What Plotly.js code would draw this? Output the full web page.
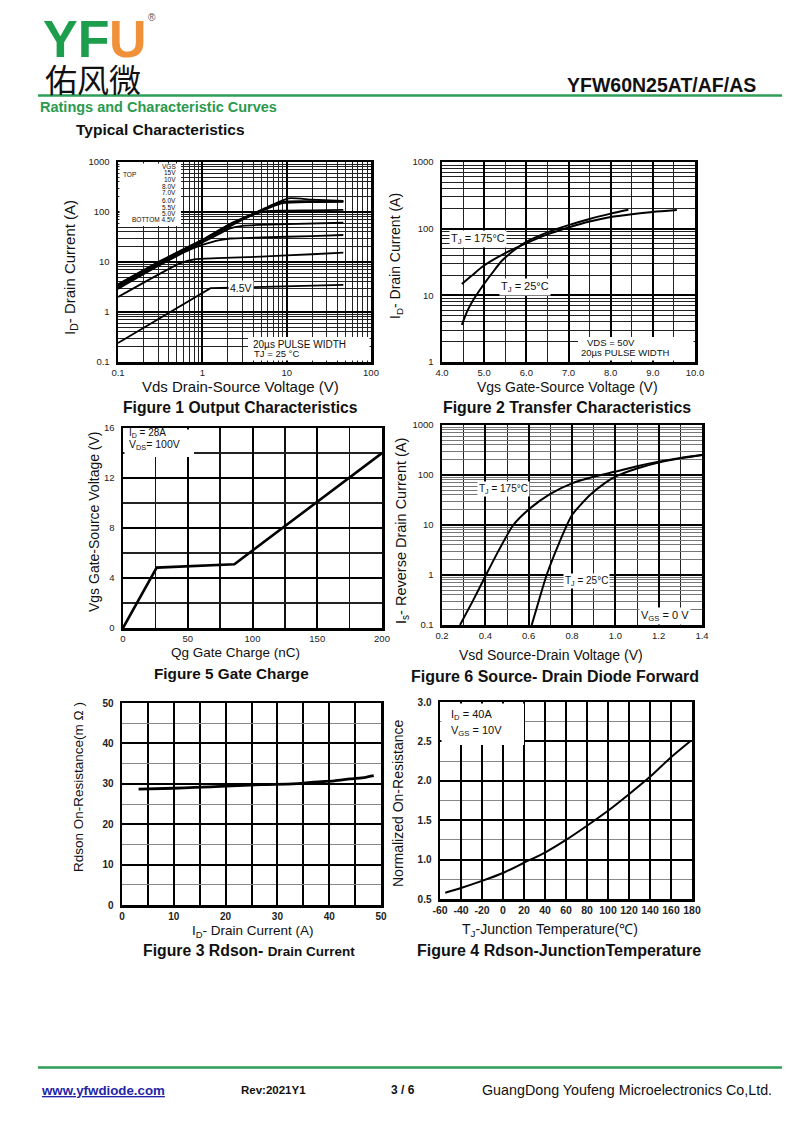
<!DOCTYPE html>
<html><head><meta charset="utf-8">
<script src="https://cdn.plot.ly/plotly-3.0.1.min.js"></script>
<style>html,body{margin:0;padding:0;background:#fff}#chart{width:800px;height:1130px}</style>
</head><body><div id="chart"></div>
<script>
// ---------- Figure 1: Output characteristics (log-log) ----------
const fig1_labels = ['15V','10V','8.0V','7.0V','6.0V','5.5V','5.0V','4.5V'];
const fig1_vds_15V = [0.1, 0.3, 1, 2.14, 4, 6, 10.5, 20, 47];
const fig1_id_15V  = [3.6, 10, 28, 58, 93, 127, 188, 176, 166];
const fig1_vds_10V = [0.1, 0.3, 1, 2.14, 4, 6, 9, 20, 47];
const fig1_id_10V  = [3.5, 9.7, 27.3, 56.5, 91, 123, 160, 164, 163];
const fig1_vds_8V  = [0.1, 0.3, 1, 2.14, 4, 6, 9, 20, 47];
const fig1_id_8V   = [3.4, 9.5, 26.5, 55, 88, 118, 150, 158, 160];
const fig1_vds_7V  = [0.1, 0.3, 1, 2.14, 3.5, 5, 8, 20, 47];
const fig1_id_7V   = [3.3, 9.2, 26, 52, 80, 100, 106, 108, 110];
const fig1_vds_6V  = [0.1, 0.3, 1, 1.6, 2.14, 3, 10, 47];
const fig1_id_6V   = [3.1, 8.8, 24.5, 37, 47, 53, 57, 61];
const fig1_vds_55V = [0.1, 0.3, 0.7, 1, 1.6, 2.14, 5, 20, 47];
const fig1_id_55V  = [2.9, 8.3, 17.5, 22, 27.5, 29.5, 31, 33, 34.7];
const fig1_vds_5V  = [0.1, 0.3, 0.55, 0.8, 1.5, 5, 20, 47];
const fig1_id_5V   = [2.0, 5.6, 9.5, 11.3, 11.9, 12.8, 14.3, 15.4];
const fig1_vds_45V = [0.1, 0.5, 1.25, 4, 15, 47];
const fig1_id_45V  = [0.24, 1.2, 3.0, 3.15, 3.3, 3.5];

// ---------- Figure 2: Transfer characteristics ----------
const fig2_vgs_25  = [4.47, 4.6, 4.74, 4.98, 5.2, 5.42, 5.7, 5.99, 6.5, 7.0, 7.5, 8.0, 8.42];
const fig2_id_25   = [3.6, 5.8, 8.5, 14.3, 22, 33, 47, 63, 88, 113, 140, 168, 192];
const fig2_vgs_175 = [4.47, 4.7, 4.98, 5.5, 5.99, 6.5, 7.0, 7.5, 8.0, 8.5, 9.0, 9.57];
const fig2_id_175  = [14.8, 19.6, 27.5, 43, 60, 82, 104, 128, 150, 165, 178, 190];

// ---------- Figure 5: Gate charge ----------
const fig5_qg  = [0, 26, 86, 200];
const fig5_vgs = [0, 4.83, 5.1, 14];

// ---------- Figure 6: Source-drain diode forward ----------
const fig6_vsd_175 = [0.283, 0.34, 0.403, 0.46, 0.529, 0.606, 0.7, 0.8, 0.9, 1.0, 1.1, 1.2, 1.3, 1.4];
const fig6_is_175  = [0.1, 0.29, 1.0, 3.0, 10, 21.5, 42, 68, 92, 117, 150, 185, 220, 251];
const fig6_vsd_25  = [0.614, 0.65, 0.683, 0.74, 0.8, 0.883, 0.95, 1.0, 1.1, 1.2, 1.3, 1.4];
const fig6_is_25   = [0.1, 0.34, 1.0, 4.3, 15.8, 39.8, 68, 92.6, 135, 177, 215, 251];

// ---------- Figure 3: Rdson vs drain current ----------
const fig3_id    = [3.2, 10, 14, 20, 27, 33, 37, 41, 44, 47, 48.6];
const fig3_rdson = [28.7, 28.9, 29.1, 29.4, 29.8, 30.0, 30.4, 30.7, 31.2, 31.6, 32.0];

// ---------- Figure 4: Normalized Rdson vs Tj ----------
const fig4_tj = [-55, -40, -20, 0, 20, 40, 60, 80, 100, 120, 140, 160, 178];
const fig4_r  = [0.58, 0.64, 0.73, 0.83, 0.96, 1.09, 1.25, 1.43, 1.62, 1.83, 2.05, 2.3, 2.5];
const fig4_tick_vals   = [-60, -40, -20, 0, 20, 40, 60, 80, 100, 120, 140, 160, 180];
const fig4_tick_labels = ['-60', '-40', '-20', '0', '20', '40', '60', '80', '100', '120', '140', '160', '180'];

// ---------- helpers ----------
const FONT = 'Liberation Sans, Arial, Helvetica, sans-serif';
const W = 800, H = 1130;
const px = v => v / W, py = v => 1 - v / H;

function line(x, y, xa, ya, w, shape) {
  return {x: x, y: y, xaxis: xa, yaxis: ya, mode: 'lines', hoverinfo: 'skip',
          line: {color: '#000', width: w || 1.8, shape: shape || 'spline', smoothing: 0.6}};
}
const traces = [
  line(fig1_vds_15V, fig1_id_15V, 'x', 'y'),
  line(fig1_vds_10V, fig1_id_10V, 'x', 'y'),
  line(fig1_vds_8V, fig1_id_8V, 'x', 'y'),
  line(fig1_vds_7V, fig1_id_7V, 'x', 'y'),
  line(fig1_vds_6V, fig1_id_6V, 'x', 'y'),
  line(fig1_vds_55V, fig1_id_55V, 'x', 'y'),
  line(fig1_vds_5V, fig1_id_5V, 'x', 'y'),
  line(fig1_vds_45V, fig1_id_45V, 'x', 'y', 1.8, 'linear'),
  line(fig2_vgs_25, fig2_id_25, 'x2', 'y2', 2),
  line(fig2_vgs_175, fig2_id_175, 'x2', 'y2', 2),
  line(fig5_qg, fig5_vgs, 'x3', 'y3', 2.6, 'linear'),
  line(fig6_vsd_175, fig6_is_175, 'x4', 'y4', 2),
  line(fig6_vsd_25, fig6_is_25, 'x4', 'y4', 2),
  line(fig3_id, fig3_rdson, 'x5', 'y5', 2.8),
  line(fig4_tj, fig4_r, 'x6', 'y6', 2)
];

function ax(extra) {
  return Object.assign({
    showline: true, mirror: true, linecolor: '#000', linewidth: 2.5,
    showgrid: true, gridcolor: '#000', gridwidth: 2, zeroline: false,
    ticks: 'outside', ticklen: 4, tickcolor: 'rgba(0,0,0,0)',
    tickfont: {family: FONT, size: 9.5, color: '#222'}, fixedrange: true
  }, extra);
}
function xax(extra) { return ax(Object.assign({ticks: '', ticklen: 0}, extra)); }
const boldTicks = {family: FONT, size: 10, color: '#222', weight: 'bold'};
const logMinor = (c, w) => ({dtick: 'D1', showgrid: true, gridcolor: c, gridwidth: w, ticks: ''});

const layout = {
  width: W, height: H, margin: {l: 0, r: 0, t: 0, b: 0},
  paper_bgcolor: '#fff', plot_bgcolor: '#fff', showlegend: false,
  font: {family: FONT, color: '#111'},
  // Fig 1
  xaxis: xax({type: 'log', range: [-1, 2], dtick: 1, exponentformat: 'none', domain: [px(118), px(371)], anchor: 'y',
    minor: logMinor('#222', 1)}),
  yaxis: ax({type: 'log', range: [-1, 3], dtick: 1, exponentformat: 'none', domain: [py(362), py(162)], anchor: 'x',
    minor: logMinor('#222', 1)}),
  // Fig 2
  xaxis2: xax({range: [4, 10], dtick: 1, tickformat: '.1f', domain: [px(442), px(695)], anchor: 'y2',
    minor: {dtick: 0.5, showgrid: true, gridcolor: '#222', gridwidth: 1, ticks: ''}}),
  yaxis2: ax({type: 'log', range: [0, 3], dtick: 1, exponentformat: 'none', domain: [py(362), py(162)], anchor: 'x2',
    minor: logMinor('#222', 1)}),
  // Fig 5
  xaxis3: xax({range: [0, 200], dtick: 50, domain: [px(123), px(382)], anchor: 'y3',
    minor: {dtick: 25, showgrid: true, gridcolor: '#111', gridwidth: 1.5, ticks: ''}}),
  yaxis3: ax({range: [0, 16], dtick: 4, domain: [py(628), py(428)], anchor: 'x3',
    minor: {dtick: 2, showgrid: true, gridcolor: '#222', gridwidth: 1.2, ticks: ''}}),
  // Fig 6
  xaxis4: xax({range: [0.19999, 1.40001], dtick: 0.2, tick0: 0.2, tickformat: '.1f', domain: [px(442), px(702)], anchor: 'y4',
    minor: {dtick: 0.1, showgrid: true, gridcolor: '#222', gridwidth: 1, ticks: ''}}),
  yaxis4: ax({type: 'log', range: [-1, 3], dtick: 1, exponentformat: 'none', domain: [py(625), py(425)], anchor: 'x4',
    minor: logMinor('#777', 1)}),
  // Fig 3
  xaxis5: xax({range: [0, 50], dtick: 10, domain: [px(122), px(381)], anchor: 'y5', tickfont: boldTicks,
    minor: {dtick: 5, showgrid: true, gridcolor: '#000', gridwidth: 2, ticks: ''}}),
  yaxis5: ax({range: [0, 50], dtick: 10, domain: [py(905), py(703)], anchor: 'x5', tickfont: boldTicks,
    minor: {dtick: 5, showgrid: true, gridcolor: '#888', gridwidth: 1, ticks: ''}}),
  // Fig 4
  xaxis6: xax({range: [-60, 180], tickmode: 'array', tickvals: fig4_tick_vals, ticktext: fig4_tick_labels,
    domain: [px(440), px(692)], anchor: 'y6',
    tickfont: {family: FONT, size: 10.5, color: '#222', weight: 'bold'}}),
  yaxis6: ax({range: [0.5, 3.0001], dtick: 0.5, tick0: 0.5, tickformat: '.1f', domain: [py(899), py(702)], anchor: 'x6',
    tickfont: boldTicks,
    minor: {dtick: 0.25, showgrid: true, gridcolor: '#888', gridwidth: 1, ticks: ''}}),
  shapes: [],
  annotations: []
};

const GREEN = '#2e9e58';
function hline(y, x0, x1, color, w) {
  layout.shapes.push({type: 'line', xref: 'paper', yref: 'paper', x0: px(x0), x1: px(x1), y0: py(y), y1: py(y),
    line: {color: color, width: w}});
}
function box(x0, y0, x1, y1) {
  layout.shapes.push({type: 'rect', xref: 'paper', yref: 'paper', layer: 'above',
    x0: px(x0), x1: px(x1), y0: py(y1), y1: py(y0), fillcolor: '#fff', line: {width: 0}});
}
function txt(text, x, y, opts) {
  opts = opts || {};
  layout.annotations.push({
    text: text, xref: 'paper', yref: 'paper', x: px(x), y: py(y),
    xanchor: opts.xa || 'left', yanchor: 'middle', showarrow: false, textangle: opts.angle || 0,
    font: {family: opts.family || FONT, size: opts.size || 10, color: opts.color || '#111', weight: opts.weight || 'normal'},
    bgcolor: opts.bg || 'rgba(0,0,0,0)', borderpad: opts.pad || 0
  });
}
const ytitle = (t, x, y, s) => txt(t, x, y, {size: s, xa: 'center', angle: -90});
const xtitle = (t, x, y, s) => txt(t, x, y, {size: s, xa: 'center'});

// header
txt('YF', 42, 39, {size: 52, weight: 'bold', color: '#1c9e4c'});
txt('U', 108, 39, {size: 52, weight: 'bold', color: '#f0913a'});
txt('®', 147, 18, {size: 10, color: '#555'});
txt('佑风微', 44, 78, {size: 32, family: 'Noto Sans CJK SC', color: '#111'});
txt('YFW60N25AT/AF/AS', 757, 85, {size: 19.5, weight: 'bold', xa: 'right'});
hline(95.5, 38, 782, GREEN, 2.5);
txt('Ratings and Characteristic Curves', 39, 107, {size: 14.5, weight: 'bold', color: '#2a9a4e'});
txt('Typical Characteristics', 75, 130, {size: 15.5, weight: 'bold'});

// footer
hline(1067.5, 38, 782, GREEN, 2.5);
txt('<u>www.yfwdiode.com</u>', 40, 1090, {size: 13.3, weight: 'bold', color: '#2424a8'});
txt('Rev:2021Y1', 240, 1090, {size: 11.5, weight: 'bold'});
txt('3 / 6', 390, 1090, {size: 12, weight: 'bold'});
txt('GuangDong Youfeng Microelectronics Co,Ltd.', 481, 1090, {size: 14.3});

// captions
txt('Figure 1 Output Characteristics', 240.5, 408, {size: 15.7, weight: 'bold', xa: 'center'});
txt('Figure 2 Transfer Characteristics', 566.5, 408, {size: 15.9, weight: 'bold', xa: 'center'});
txt('Figure 5 Gate Charge', 231.5, 673, {size: 15.3, weight: 'bold', xa: 'center'});
txt('Figure 6 Source- Drain Diode Forward', 555, 676, {size: 16, weight: 'bold', xa: 'center'});
txt('Figure 3 Rdson- <span style="font-size:13.5px">Drain Current</span>', 248.5, 950, {size: 15.8, weight: 'bold', xa: 'center'});
txt('Figure 4 Rdson-JunctionTemperature', 558.5, 950, {size: 16, weight: 'bold', xa: 'center'});

// axis titles
xtitle('Vds Drain-Source Voltage (V)', 240.5, 387, 15);
ytitle('I<sub>D</sub>- Drain Current (A)', 71, 268, 15);
xtitle('Vgs Gate-Source Voltage (V)', 567.5, 386.5, 14);
ytitle('I<sub>D</sub>- Drain Current (A)', 396, 256, 14);
xtitle('Qg Gate Charge (nC)', 235, 652.5, 13.5);
ytitle('Vgs Gate-Source Voltage (V)', 94, 522, 14);
xtitle('Vsd Source-Drain Voltage (V)', 551, 655, 14);
ytitle('I<sub>s</sub>- Reverse Drain Current (A)', 402, 531, 14.5);
xtitle('I<sub>D</sub>- Drain Current (A)', 253, 931, 13.5);
ytitle('Rdson On-Resistance(m Ω )', 78, 787, 13.5);
xtitle('T<sub>J</sub>-Junction Temperature(℃)', 550, 930, 14);
ytitle('Normalized On-Resistance', 398, 804, 14);

// Fig 1 legend box
box(119.5, 163.5, 181, 226);
txt('VGS', 177, 166.5, {size: 6.5, xa: 'right'});
const legY = [172.5, 179.5, 186.5, 193, 200, 207, 213.5, 220];
fig1_labels.forEach((l, i) => txt(i === fig1_labels.length - 1 ? 'BOTTOM ' + l : l, 177, legY[i], {size: 6.5, xa: 'right'}));
txt('TOP', 122, 174, {size: 6.5});
box(248, 337, 369.5, 360.5);
txt('20µs PULSE WIDTH', 252, 344.5, {size: 10});
txt('TJ = 25 °C', 253, 353.5, {size: 9.5});
txt('4.5V', 241, 288, {size: 10.5, xa: 'center', bg: '#fff', pad: 1});

// Fig 2 labels
box(578, 337, 693.5, 360.5);
txt('VDS = 50V', 586, 343, {size: 9.5});
txt('20µs PULSE WIDTH', 580, 352.5, {size: 9.5});
txt('T<sub>J</sub> = 175°C', 478, 239, {size: 11, xa: 'center', bg: '#fff', pad: 1});
txt('T<sub>J</sub> = 25°C', 525, 286.5, {size: 11, xa: 'center', bg: '#fff', pad: 1});

// Fig 5 labels
box(124.5, 429.5, 194, 457);
txt('I<sub>D</sub> = 28A', 128, 433.5, {size: 10});
txt('V<sub>DS</sub>= 100V', 128, 445, {size: 10.5});

// Fig 6 labels
txt('T<sub>J</sub> = 175°C', 503, 489, {size: 10, xa: 'center', bg: '#fff', pad: 1});
txt('T<sub>J</sub> = 25°C', 586, 581, {size: 10, xa: 'center', bg: '#fff', pad: 1});
txt('V<sub>GS</sub> = 0 V', 665, 616, {size: 11, xa: 'center', bg: '#fff', pad: 1});

// Fig 4 labels
box(441.5, 703.5, 524, 745);
txt('I<sub>D</sub> = 40A', 450, 714.5, {size: 11});
txt('V<sub>GS</sub> = 10V', 450, 731, {size: 11});

Plotly.newPlot('chart', traces, layout, {staticPlot: true, displayModeBar: false});
</script></body></html>
